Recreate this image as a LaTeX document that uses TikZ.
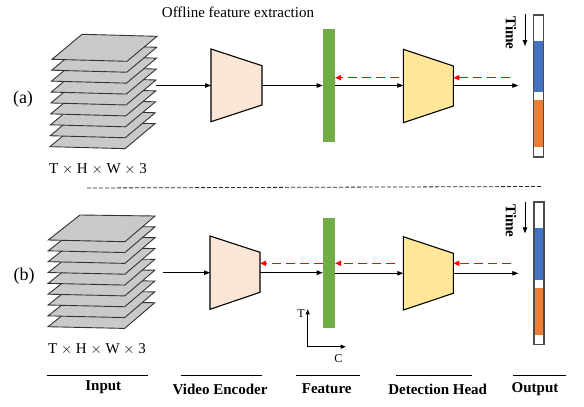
\documentclass[tikz,border=0pt]{standalone}
\usepackage{fontspec}
\setmainfont{Liberation Serif}
\usetikzlibrary{arrows.meta}
\definecolor{encfill}{HTML}{FBE5D6}
\definecolor{headfill}{HTML}{FFE699}
\definecolor{featgreen}{HTML}{70AD47}
\definecolor{outblue}{HTML}{4472C4}
\definecolor{outorange}{HTML}{ED7D31}
\definecolor{planefill}{HTML}{C9C9C9}
\definecolor{dashred}{RGB}{255,0,0}
\begin{document}
\begin{tikzpicture}[x=1pt,y=-1pt,
  plane/.style={draw=black!80,fill=planefill,line width=0.9pt,line join=miter},
  trap/.style={draw=black,line width=1.1pt,line join=miter},
  arr/.style={-{Triangle[length=6pt,width=4.5pt]},line width=0.8pt},
  smallarr/.style={-{Triangle[length=5pt,width=4pt]},line width=0.8pt},
  redarr/.style={draw=dashred,line width=1.4pt,dash pattern=on 9pt off 5pt,-{Triangle[length=6pt,width=5pt,fill=dashred]}},
  featbar/.style={fill=featgreen,inner sep=0pt,minimum width=12.3pt},
  outbar/.style={draw=black!70,fill=white,line width=0.9pt,inner sep=0pt,minimum width=9.5pt},
  lbl/.style={font=\fontsize{15}{17}\selectfont,inner sep=0pt},
  bigl/.style={font=\fontsize{18}{20}\selectfont,inner sep=0pt},
  boldl/.style={font=\fontsize{15}{17}\selectfont\bfseries,inner sep=0pt},
  axl/.style={font=\fontsize{12}{14}\selectfont,inner sep=0pt},
  uline/.style={line width=0.8pt},
]
\useasboundingbox (0,0) rectangle (584,407);

% ---------- title ----------
\node[lbl] (title) at (238,12) {Offline feature extraction};

% ---------- (a) ----------
\node[bigl] (la) at (23,99) {(a)};
\foreach \i in {8,7,...,0}{
  \draw[plane] ({52-0.25*\i},{59.3+10.92*\i}) -- ++(30,-25) -- ++(75,2) -- ++(-30,25) -- cycle;
}
\node[lbl] (dimA) at (98,169) {T $\times$ H $\times$ W $\times$ 3};
\coordinate (inA) at (156,85.5);

\draw[trap,fill=encfill] (211,49) -- (262,65.7) -- (262,105) -- (211,121.7) -- cycle;
\coordinate (encAin) at (211,85.5);
\coordinate (encAout) at (262,85.5);

\node[featbar,minimum height=112.7pt] (featA) at (328.85,85.35) {};
\coordinate (featAin) at (322.7,85.5);
\coordinate (featAout) at (335,85.5);
\coordinate (featAr) at (335,77.7);

\draw[trap,fill=headfill] (403.3,49.3) -- (453.3,66) -- (453.3,106) -- (403.3,122.7) -- cycle;
\coordinate (headAin) at (403.3,85.5);
\coordinate (headAout) at (453.3,85.5);
\coordinate (headAr) at (399,77.7);
\coordinate (headArr) at (453.3,77.7);
\coordinate (outAend) at (518.3,85.5);
\coordinate (outAr) at (510,77.7);

\draw[arr] (inA) -- (encAin);
\draw[arr] (encAout) -- (featAin);
\draw[arr] (featAout) -- (headAin);
\draw[arr] (headAout) -- (outAend);
\draw[redarr] (headAr) -- (featAr);
\draw[redarr] (outAr) -- (headArr);

\node[outbar,minimum height=141.7pt] (outA) at (538.65,85.85) {};
\fill[outblue] (534.45,40.7) rectangle (542.85,92.3);
\fill[outorange] (534.45,100) rectangle (542.85,146.7);
\draw[draw=black!70,line width=0.9pt] (outA.north west) rectangle (outA.south east);
\node[boldl,rotate=-90] (timeA) at (511,33) {Time};
\coordinate (tAs) at (525,14);
\coordinate (tAe) at (525,46);
\draw[arr] (tAs) -- (tAe);

% ---------- separator ----------
\coordinate (sepL) at (87,188);
\coordinate (sepR) at (543,186.5);
\draw[black!85,line width=0.8pt,dash pattern=on 4pt off 2pt] (sepL) -- (sepR);

% ---------- (b) ----------
\node[bigl] (lb) at (24,276) {(b)};
\foreach \i in {8,7,...,0}{
  \draw[plane] ({48.3-0.04*\i},{240+10.84*\i}) -- ++(31.7,-25) -- ++(75,1) -- ++(-30,25.7) -- cycle;
}
\node[lbl] (dimB) at (97,349) {T $\times$ H $\times$ W $\times$ 3};
\coordinate (inB) at (162.7,272.7);

\draw[trap,fill=encfill] (210,236) -- (260,252.3) -- (260,292.3) -- (210,309.3) -- cycle;
\coordinate (encBin) at (210,272.7);
\coordinate (encBout) at (260,272.7);
\coordinate (encBr) at (260,263.3);

\node[featbar,minimum height=109.7pt] (featB) at (328.85,272.85) {};
\coordinate (featBin) at (322.7,272.7);
\coordinate (featBout) at (335,273.3);
\coordinate (featBrl) at (322.7,263.3);
\coordinate (featBrr) at (335,263.3);

\draw[trap,fill=headfill] (403.3,236.7) -- (453.3,253.3) -- (453.3,293.3) -- (403.3,310) -- cycle;
\coordinate (headBin) at (403.3,273.3);
\coordinate (headBout) at (453.3,273.3);
\coordinate (headBr) at (395,263.3);
\coordinate (headBrr) at (453.3,263.3);
\coordinate (outBend) at (518.3,273.3);
\coordinate (outBr) at (510.7,263.3);

\draw[arr] (inB) -- (encBin);
\draw[arr] (encBout) -- (featBin);
\draw[arr] (featBout) -- (headBin);
\draw[arr] (headBout) -- (outBend);
\draw[redarr] (featBrl) -- (encBr);
\draw[redarr] (headBr) -- (featBrr);
\draw[redarr] (outBr) -- (headBrr);

\node[outbar,minimum height=142pt] (outB) at (539,273.3) {};
\fill[outblue] (534.8,228.3) rectangle (543.2,280);
\fill[outorange] (534.8,287.7) rectangle (543.2,335);
\draw[draw=black!70,line width=0.9pt] (outB.north west) rectangle (outB.south east);
\node[boldl,rotate=-90] (timeB) at (511,221) {Time};
\coordinate (tBs) at (525,201.7);
\coordinate (tBe) at (525,233.3);
\draw[arr] (tBs) -- (tBe);

% axes
\coordinate (ax0) at (307.7,346.7);
\coordinate (axT) at (307.7,309.3);
\coordinate (axC) at (345.7,346.7);
\draw[smallarr] (ax0) -- (axT);
\draw[smallarr] (ax0) -- (axC);
\node[axl] (Tl) at (301,314) {T};
\node[axl] (Cl) at (338.3,358.3) {C};

% ---------- bottom labels ----------
\coordinate (u1a) at (46.7,375.7); \coordinate (u1b) at (147.7,375.7);
\coordinate (u2a) at (181,375.7);  \coordinate (u2b) at (261.7,375.7);
\coordinate (u3a) at (296,375.7);  \coordinate (u3b) at (360,375.7);
\coordinate (u4a) at (396,375.7);  \coordinate (u4b) at (471.7,375.7);
\coordinate (u5a) at (512.7,375.7);\coordinate (u5b) at (566,375.7);
\draw[uline] (u1a) -- (u1b);
\draw[uline] (u2a) -- (u2b);
\draw[uline] (u3a) -- (u3b);
\draw[uline] (u4a) -- (u4b);
\draw[uline] (u5a) -- (u5b);
\node[boldl] (Lin) at (103.3,387) {Input};
\node[boldl] (Lenc) at (220,389) {Video Encoder};
\node[boldl] (Lfeat) at (326.7,389) {Feature};
\node[boldl] (Lhead) at (437.7,389) {Detection Head};
\node[boldl] (Lout) at (535,389) {Output};
\end{tikzpicture}
\end{document}
